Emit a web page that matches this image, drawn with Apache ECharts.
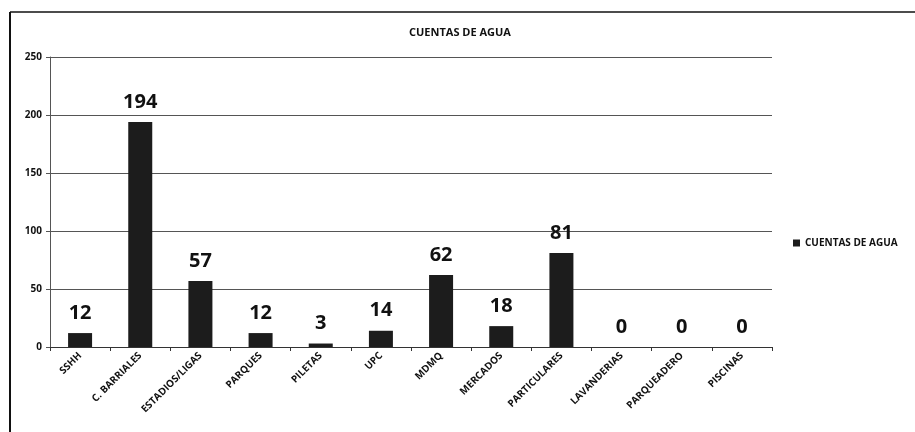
<!DOCTYPE html>
<html>
<head>
<meta charset="utf-8">
<script src="https://cdn.jsdelivr.net/npm/echarts@6/dist/echarts.min.js"></script>
<style>
  html, body { margin: 0; padding: 0; background: #fff; }
  #main { width: 915px; height: 432px; }
</style>
</head>
<body>
<div id="main"></div>
<script>
// categorias y valores
var categorias = ['SSHH', 'C. BARRIALES', 'ESTADIOS/LIGAS', 'PARQUES', 'PILETAS', 'UPC',
   'MDMQ', 'MERCADOS', 'PARTICULARES', 'LAVANDERIAS', 'PARQUEADERO', 'PISCINAS'];
var cuentas = [12, 194, 57, 12, 3, 14, 62, 18, 81, 0, 0, 0];
var serieNombre = 'CUENTAS DE AGUA';

var chart = echarts.init(document.getElementById('main'));
var fuente = '"Open Sans", "DejaVu Sans", sans-serif';

var option = {
   animation: false,
   backgroundColor: '#fff',
   title: {
      text: 'CUENTAS DE AGUA',
      left: 455,
      top: 22,
      textAlign: 'center',
      textStyle: { fontFamily: fuente, fontSize: 11, fontWeight: 'bold', color: '#111' }
   },
   legend: {
      data: [serieNombre],
      left: 788,
      top: 233,
      itemWidth: 7,
      itemHeight: 7,
      itemGap: 4,
      icon: 'rect',
      textStyle: { fontFamily: fuente, fontSize: 10, fontWeight: 'bold', color: '#111' }
   },
   grid: { left: 50, right: 143, top: 57, bottom: 85 },
   xAxis: {
      type: 'category',
      data: categorias,
      axisLine: { lineStyle: { color: '#333', width: 1 } },
      axisTick: { show: true, alignWithLabel: false, length: 4, lineStyle: { color: '#333' } },
      axisLabel: {
         rotate: 45, interval: 0, margin: 7,
         fontFamily: fuente, fontSize: 10, fontWeight: 'bold', color: '#111'
      }
   },
   yAxis: {
      type: 'value',
      min: 0, max: 250, interval: 50,
      axisLine: { show: true, lineStyle: { color: '#555', width: 1 } },
      axisTick: { show: true, length: 4, lineStyle: { color: '#555' } },
      axisLabel: { fontFamily: fuente, fontSize: 10, fontWeight: 'bold', color: '#111', margin: 8 },
      splitLine: { lineStyle: { color: '#555', width: 1 } }
   },
   series: [{
      name: serieNombre,
      type: 'bar',
      barWidth: 24,
      data: cuentas,
      itemStyle: { color: '#1c1c1c' },
      label: {
         show: true,
         position: 'top',
         distance: 10,
         fontFamily: fuente, fontSize: 20, fontWeight: 'bold', color: '#111'
      }
   }],
   graphic: [
      { type: 'line', shape: { x1: 10, y1: 12, x2: 10, y2: 432 }, style: { stroke: '#111', lineWidth: 2 } },
      { type: 'line', shape: { x1: 10, y1: 12, x2: 915, y2: 12 }, style: { stroke: '#111', lineWidth: 1.5 } }
   ]
};
chart.setOption(option);
</script>
</body>
</html>
